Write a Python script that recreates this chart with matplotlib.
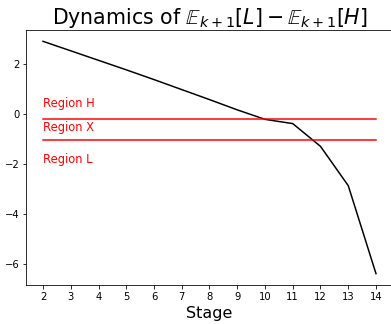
import numpy as np
import matplotlib
matplotlib.use('Agg')
import matplotlib.pyplot as plt

# expected gap E[L] - E[H] at each stage
stages = [2, 3, 4, 5, 6, 7, 8, 9, 10, 11, 12, 13, 14]
gap = [2.92, 2.54, 2.16, 1.78, 1.39, 0.99, 0.59, 0.18, -0.20, -0.37, -1.28, -2.85, -6.37]

# region boundaries and labels
upper_bound = -0.19
lower_bound = -1.04
region_names = ['Region H', 'Region X', 'Region L']
region_y = [0.44, -0.52, -1.80]

DPI = 72
fig = plt.figure(figsize=(391 / DPI, 324 / DPI), dpi=DPI)
ax = fig.add_axes([26.35 / 391, (324 - 285.3) / 324, 366.3 / 391, (285.3 - 29.7) / 324])

ax.plot(stages, gap, color='black', lw=1.5)
ax.plot([stages[0], stages[-1]], [upper_bound, upper_bound], color='red', lw=1.5)
ax.plot([stages[0], stages[-1]], [lower_bound, lower_bound], color='red', lw=1.5)
for name, y in zip(region_names, region_y):
    ax.text(stages[0], y, name, color='red', fontsize=11.5, va='center', ha='left')

ax.set_xticks(stages)
ax.set_yticks([-6, -4, -2, 0, 2])
ax.set_xlabel('Stage', fontsize=16)
ax.set_title(r'Dynamics of $\mathbb{E}_{k+1}[L] - \mathbb{E}_{k+1}[H]$', fontsize=20.5)

fig.savefig('out.png', dpi=DPI)
